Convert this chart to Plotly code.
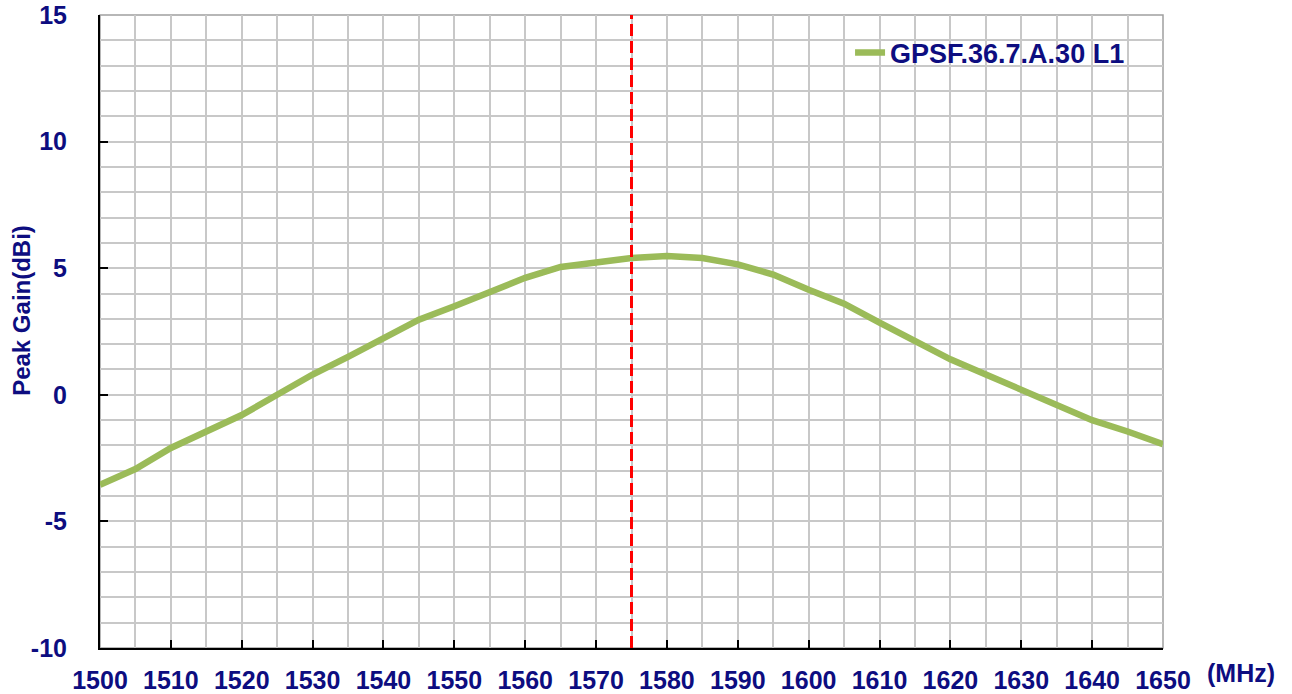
import plotly.graph_objects as go

freq_mhz = [1500, 1505, 1510, 1515, 1520, 1525, 1530, 1535, 1540, 1545, 1550, 1555,
            1560, 1565, 1570, 1575, 1580, 1585, 1590, 1595, 1600, 1605, 1610, 1615,
            1620, 1625, 1630, 1635, 1640, 1645, 1650]
peak_gain_dbi = [-3.55, -2.93, -2.1, -1.45, -0.8, 0.0, 0.8, 1.5, 2.2, 2.97, 3.5, 4.05,
                 4.62, 5.05, 5.25, 5.4, 5.48, 5.4, 5.15, 4.75, 4.15, 3.6, 2.85, 2.15,
                 1.4, 0.8, 0.2, -0.45, -1.0, -1.45, -1.95]
series_name = "GPSF.36.7.A.30 L1"
marker_freq = 1575
x_ticks = [1500, 1510, 1520, 1530, 1540, 1550, 1560, 1570, 1580, 1590, 1600,
           1610, 1620, 1630, 1640, 1650]
y_ticks = [-10, -5, 0, 5, 10, 15]
y_tick_labels = ["-10", "-5", "0", "5", "10", "15"]
y_title = "Peak Gain(dBi)"
x_unit = "(MHz)"

NAVY = "#0d0d80"
GREEN = "#9bbb59"
FONT = "Arial, Liberation Sans, sans-serif"

fig = go.Figure()
fig.add_trace(go.Scatter(
    x=freq_mhz, y=peak_gain_dbi, mode="lines", name=series_name,
    line=dict(color=GREEN, width=6.5),
))

fig.add_shape(type="line", xref="x", yref="paper", x0=marker_freq, x1=marker_freq,
              y0=0, y1=1, line=dict(color="#ff0000", width=3, dash="12px,5px"))
# legend background box
fig.add_shape(type="rect", xref="paper", yref="paper", x0=0.6755, x1=1.0,
              y0=0.885, y1=1.0, fillcolor="white", line=dict(width=0), layer="below")
# gray frame (top/right)
fig.add_shape(type="rect", xref="paper", yref="paper", x0=0, x1=1, y0=0, y1=1,
              line=dict(color="#a0a0a0", width=1.5), layer="below")

grid_c = "#c8c8c8"
fig.update_xaxes(
    range=[1500, 1650], tickvals=x_ticks, showgrid=True, gridcolor=grid_c, gridwidth=1.5,
    minor=dict(dtick=5, tick0=1500, showgrid=True, gridcolor=grid_c, gridwidth=1.5),
    showline=True, linecolor="black", linewidth=2, ticks="inside", ticklen=8,
    tickcolor="black", tickwidth=1.5, zeroline=False, automargin=False,
    ticklabeloverflow="allow",
    tickfont=dict(family=FONT, size=25, color=NAVY, weight="bold"),
    ticklabelstandoff=9,
)
fig.update_yaxes(
    range=[-10, 15], tickvals=y_ticks, ticktext=y_tick_labels,
    showgrid=True, gridcolor=grid_c, gridwidth=1.5,
    minor=dict(dtick=1, tick0=0, showgrid=True, gridcolor=grid_c, gridwidth=1.5),
    showline=True, linecolor="black", linewidth=2, ticks="inside", ticklen=8,
    tickcolor="black", tickwidth=1.5, zeroline=False, automargin=False,
    ticklabeloverflow="allow",
    tickfont=dict(family=FONT, size=25, color=NAVY, weight="bold"),
    ticklabelstandoff=26,
)

fig.add_annotation(text=y_title, xref="paper", yref="paper", x=-0.0735, y=0.534,
                   textangle=-90, xanchor="center", yanchor="middle", showarrow=False,
                   font=dict(family=FONT, size=24, color=NAVY, weight="bold"))
fig.add_annotation(text=x_unit, xref="paper", yref="paper", x=1.0734, y=-0.0395,
                   xanchor="center", yanchor="middle", showarrow=False,
                   font=dict(family=FONT, size=25, color=NAVY, weight="bold"))

fig.update_layout(
    width=1292, height=694,
    margin=dict(l=100, r=129, t=15, b=46, autoexpand=False),
    plot_bgcolor="white", paper_bgcolor="white",
    showlegend=True,
    legend=dict(x=0.7056, y=0.94, xanchor="left", yanchor="middle",
                bgcolor="rgba(0,0,0,0)", itemwidth=30,
                font=dict(family=FONT, size=27, color=NAVY, weight="bold")),
)

fig.write_html("out.html", config={"displayModeBar": False},
               post_script="document.body.style.margin='0';document.body.style.overflow='hidden';")
